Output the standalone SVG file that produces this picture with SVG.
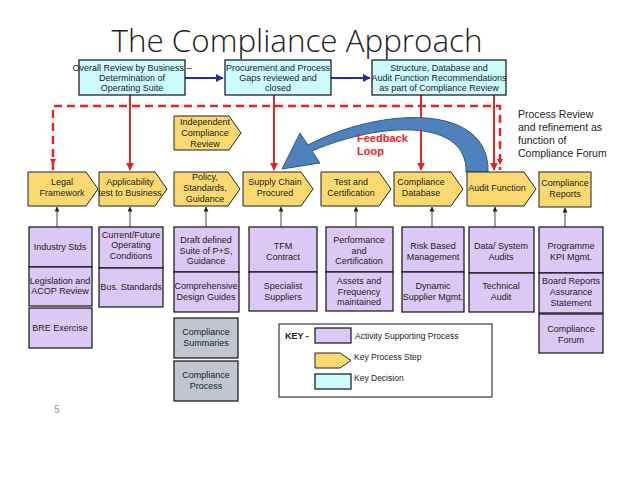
<svg xmlns="http://www.w3.org/2000/svg" width="638" height="479" viewBox="0 0 638 479">
<defs>
<style>
text{font-family:"Liberation Sans",Arial,sans-serif;font-size:9px;fill:#222;text-anchor:middle}
.dec{fill:#ccfbfe;stroke:#111;stroke-width:1.2}
.step{fill:#fbd970;stroke:#222;stroke-width:1}
.act{fill:#dcc8f5;stroke:#111;stroke-width:1.2}
.gry{fill:#bec6ce;stroke:#111;stroke-width:1.2}
.red{stroke:#e42525;stroke-width:2;fill:none}
.dash{stroke:#e42525;stroke-width:2.5;fill:none;stroke-dasharray:8,5}
.blu{stroke:#2a2aa8;stroke-width:2;fill:none}
.blk{stroke:#444;stroke-width:1;fill:none}
.l{text-anchor:start}
</style>
<marker id="ar" viewBox="0 0 10 10" refX="9" refY="5" markerWidth="4" markerHeight="4" orient="auto"><path d="M0,0L10,5L0,10z" fill="#e42525"/></marker>
<marker id="ab" viewBox="0 0 10 10" refX="9" refY="5" markerWidth="4" markerHeight="4" orient="auto"><path d="M0,0L10,5L0,10z" fill="#2a2aa8"/></marker>
<marker id="ak" viewBox="0 0 10 10" refX="9" refY="5" markerWidth="5" markerHeight="5" orient="auto"><path d="M0,0L10,5L0,10z" fill="#222"/></marker>
</defs>
<rect width="638" height="479" fill="#fff"/>
<text x="297" y="52" style="font-family:'Open Sans','Liberation Sans',sans-serif;font-weight:300;font-size:32px;fill:#222" textLength="371" lengthAdjust="spacingAndGlyphs">The Compliance Approach</text>

<g id="connectors">
<path class="blu" d="M185,78H223" marker-end="url(#ab)"/>
<path class="blu" d="M331,78H370" marker-end="url(#ab)"/>
<path class="red" d="M130,95V170" marker-end="url(#ar)"/>
<path class="red" d="M274,95V170" marker-end="url(#ar)"/>
<path class="red" d="M421,95V170" marker-end="url(#ar)"/>
<path class="red" d="M494,95V170" marker-end="url(#ar)"/>
<path class="dash" d="M53,170V106H500V170" />
<path d="M53,165l-3,-6h6z M500,165l-3,-6h6z" fill="#e42525"/>
<path class="blk" d="M57,227V207" marker-end="url(#ak)"/>
<path class="blk" d="M130,227V207" marker-end="url(#ak)"/>
<path class="blk" d="M206,227V207" marker-end="url(#ak)"/>
<path class="blk" d="M281,227V207" marker-end="url(#ak)"/>
<path class="blk" d="M356,227V207" marker-end="url(#ak)"/>
<path class="blk" d="M432,227V207" marker-end="url(#ak)"/>
<path class="blk" d="M495,227V207" marker-end="url(#ak)"/>
<path class="blk" d="M565,227V208" marker-end="url(#ak)"/>
<path id="feedback" d="M466,172 C468,120 385,120 312,151 L320,163 L282,169 L300,133 L308,145 C380,107 490,102 488,172 Z" fill="#4f81bd" stroke="#2e5a88" stroke-width="1"/>
</g>

<g id="n_overall"><rect class="dec" x="79" y="60" width="106" height="35"/><text x="132" y="71">Overall Review by Business –</text><text x="132" y="81">Determination of</text><text x="132" y="91">Operating Suite</text></g>
<g id="n_procure"><rect class="dec" x="225" y="60" width="106" height="35"/><text x="278" y="71">Procurement and Process</text><text x="278" y="81">Gaps reviewed and</text><text x="278" y="91">closed</text></g>
<g id="n_structure"><rect class="dec" x="372" y="60" width="134" height="35"/><text x="439" y="71">Structure, Database and</text><text x="439" y="81">Audit Function Recommendations</text><text x="439" y="91">as part of Compliance Review</text></g>

<g id="n_independent"><path class="step" d="M174,116H229L241,133L229,150H174Z"/><text x="205" y="125">Independent</text><text x="205" y="136">Compliance</text><text x="205" y="147">Review</text></g>

<g id="n_legal"><path class="step" d="M28,172H86L98,189L86,206H28Z"/><text x="62" y="185">Legal</text><text x="62" y="196">Framework</text></g>
<g id="n_applic"><path class="step" d="M99,172H155L167,189L155,206H99Z"/><text x="130" y="185">Applicability</text><text x="130" y="196">test to Business</text></g>
<g id="n_policy"><path class="step" d="M174,172H228L240,189L228,206H174Z"/><text x="205" y="180">Policy,</text><text x="205" y="191">Standards,</text><text x="205" y="202">Guidance</text></g>
<g id="n_supply"><path class="step" d="M243,172H301L313,189L301,206H243Z"/><text x="275" y="185">Supply Chain</text><text x="275" y="196">Procured</text></g>
<g id="n_test"><path class="step" d="M321,172H379L391,189L379,206H321Z"/><text x="351" y="185">Test and</text><text x="351" y="196">Certification</text></g>
<g id="n_db"><path class="step" d="M394,172H451L463,189L451,206H394Z"/><text x="421" y="185">Compliance</text><text x="421" y="196">Database</text></g>
<g id="n_audit"><path class="step" d="M467,172H524L536,189L524,206H467Z"/><text x="497" y="191">Audit Function</text></g>
<g id="n_reports"><rect class="step" x="539" y="172" width="52" height="35"/><text x="565" y="186">Compliance</text><text x="565" y="197">Reports</text></g>

<g id="n_industry"><rect class="act" x="29" y="227" width="63" height="40"/><text x="60" y="250">Industry Stds</text></g>
<g id="n_legislation"><rect class="act" x="29" y="267" width="63" height="39"/><text x="60" y="284">Legislation and</text><text x="60" y="294">ACOP Review</text></g>
<g id="n_bre"><rect class="act" x="29" y="308" width="63" height="40"/><text x="60" y="331">BRE Exercise</text></g>
<g id="n_current"><rect class="act" x="99" y="227" width="64" height="41"/><text x="131" y="238">Current/Future</text><text x="131" y="248">Operating</text><text x="131" y="259">Conditions</text></g>
<g id="n_bus"><rect class="act" x="99" y="268" width="64" height="39"/><text x="131" y="290">Bus. Standards</text></g>
<g id="n_draft"><rect class="act" x="174" y="227" width="65" height="45"/><text x="206" y="243">Draft defined</text><text x="206" y="253.5">Suite of P+S,</text><text x="206" y="264">Guidance</text></g>
<g id="n_comprehensive"><rect class="act" x="174" y="272" width="65" height="40"/><text x="206" y="289">Comprehensive</text><text x="206" y="300">Design Guides</text></g>
<g id="n_summaries"><rect class="gry" x="174" y="318" width="64" height="40"/><text x="206" y="335">Compliance</text><text x="206" y="346">Summaries</text></g>
<g id="n_process"><rect class="gry" x="174" y="361" width="64" height="40"/><text x="206" y="378">Compliance</text><text x="206" y="389">Process</text></g>
<g id="n_tfm"><rect class="act" x="249" y="227" width="68" height="45"/><text x="283" y="249">TFM</text><text x="283" y="260">Contract</text></g>
<g id="n_specialist"><rect class="act" x="249" y="272" width="68" height="39"/><text x="283" y="289">Specialist</text><text x="283" y="300">Suppliers</text></g>
<g id="n_performance"><rect class="act" x="326" y="227" width="67" height="45"/><text x="359" y="243">Performance</text><text x="359" y="253.5">and</text><text x="359" y="264">Certification</text></g>
<g id="n_assets"><rect class="act" x="326" y="272" width="67" height="39"/><text x="359" y="284">Assets and</text><text x="359" y="294.5">Frequency</text><text x="359" y="305">maintained</text></g>
<g id="n_risk"><rect class="act" x="402" y="227" width="62" height="45"/><text x="433" y="249">Risk Based</text><text x="433" y="260">Management</text></g>
<g id="n_dynamic"><rect class="act" x="402" y="272" width="62" height="40"/><text x="433" y="289">Dynamic</text><text x="433" y="300">Supplier Mgmt.</text></g>
<g id="n_data"><rect class="act" x="469" y="227" width="65" height="46"/><text x="501" y="249">Data/ System</text><text x="501" y="260">Audits</text></g>
<g id="n_technical"><rect class="act" x="469" y="273" width="65" height="39"/><text x="501" y="289">Technical</text><text x="501" y="300">Audit</text></g>
<g id="n_programme"><rect class="act" x="539" y="227" width="64" height="46"/><text x="571" y="249">Programme</text><text x="571" y="260">KPI Mgmt.</text></g>
<g id="n_board"><rect class="act" x="539" y="273" width="64" height="40"/><text x="571" y="284">Board Reports</text><text x="571" y="295">Assurance</text><text x="571" y="306">Statement</text></g>
<g id="n_forum"><rect class="act" x="539" y="314" width="64" height="39"/><text x="571" y="332">Compliance</text><text x="571" y="343">Forum</text></g>

<g id="feedback_label"><text class="l" x="357" y="142" style="font-size:11px;font-weight:bold;fill:#e42525">Feedback</text><text class="l" x="357" y="155" style="font-size:11px;font-weight:bold;fill:#e42525">Loop</text></g>
<g id="process_review"><text class="l" x="518" y="118" style="font-size:10.5px">Process Review</text><text class="l" x="518" y="131" style="font-size:10.5px">and refinement as</text><text class="l" x="518" y="144" style="font-size:10.5px">function of</text><text class="l" x="518" y="157" style="font-size:10.5px">Compliance Forum</text></g>

<g id="key">
<rect x="279" y="324" width="213" height="73" fill="#fff" stroke="#111" stroke-width="1"/>
<text class="l" x="285" y="339" style="font-weight:bold">KEY -</text>
<rect class="act" x="315" y="328" width="36" height="15"/>
<text class="l" x="355" y="339" style="font-size:8.5px">Activity Supporting Process</text>
<path class="step" d="M315,353H340L351,360.5L340,368H315Z"/>
<text class="l" x="354" y="360" style="font-size:8.5px">Key Process Step</text>
<rect class="dec" x="315" y="374" width="36" height="15"/>
<text class="l" x="354" y="381" style="font-size:8.5px">Key Decision</text>
</g>
<text x="57" y="413" style="font-size:10px;fill:#999">5</text>
</svg>
